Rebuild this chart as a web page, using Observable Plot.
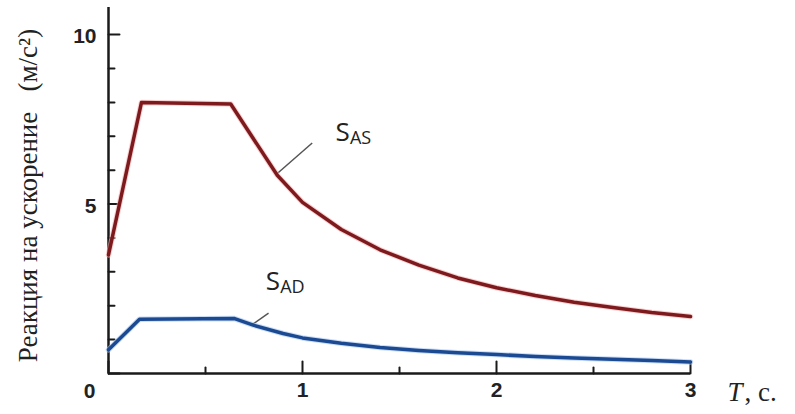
<!DOCTYPE html>
<html><head><meta charset="utf-8">
<script src="https://cdn.jsdelivr.net/npm/d3@7"></script>
<script src="https://cdn.jsdelivr.net/npm/@observablehq/plot@0.6"></script>
<style>body{margin:0;background:#fff}</style>
</head><body><div id="chart"></div>
<script>
// Series S_AS (red)
const periodsAS = [0, 0.17, 0.63, 0.87, 1.0, 1.2, 1.4, 1.6, 1.8, 2.0, 2.2, 2.4, 2.6, 2.8, 3.0];
const valuesAS  = [3.5, 8.0, 7.95, 5.85, 5.05, 4.25, 3.65, 3.2, 2.82, 2.53, 2.3, 2.1, 1.95, 1.8, 1.68];
// Series S_AD (blue)
const periodsAD = [0, 0.16, 0.65, 0.75, 0.9, 1.0, 1.2, 1.4, 1.6, 1.8, 2.0, 2.2, 2.4, 2.6, 2.8, 3.0];
const valuesAD  = [0.7, 1.6, 1.62, 1.42, 1.18, 1.05, 0.89, 0.77, 0.68, 0.61, 0.56, 0.5, 0.46, 0.42, 0.38, 0.34];

const yMajorTicks = [0, 5, 10];
const yMinorTicks = [1, 2, 3, 4, 6, 7, 8, 9];
const yTickLabels = [5, 10];
const xMajorTicks = [0, 1, 2, 3];
const xMinorTicks = [0.5, 1.5, 2.5];
const xTickLabels = [1, 2, 3];

// annotations (data units)
const seriesNames = ["S", "S"];
const seriesSubs = ["AS", "AD"];
const labelT = [1.17, 0.81];
const labelV = [6.85, 2.45];
const leaderFromT = [0.87, 0.735];
const leaderFromV = [5.9, 1.42];
const leaderToT = [1.05, 0.825];
const leaderToV = [6.8, 1.78];

const yTitle = "Реакция на ускорение\u00a0\u00a0\u00a0(м/с²)";
const xTitleVar = "T";
const xTitleUnit = ", с.";

const dataAS = periodsAS.map((t, i) => ({t, v: valuesAS[i]}));
const dataAD = periodsAD.map((t, i) => ({t, v: valuesAD[i]}));
const labels = seriesNames.map((s, i) => ({s, sub: seriesSubs[i], t: labelT[i], v: labelV[i],
  t1: leaderFromT[i], v1: leaderFromV[i], t2: leaderToT[i], v2: leaderToV[i]}));

const axisColor = "#1a1a1a";
const tickShape = {draw(context, l) { context.moveTo(0, 0); context.lineTo(0, -l); }};
const sans = "'Liberation Sans', Arial, sans-serif";
const serif = "'Liberation Serif', 'Times New Roman', serif";
const labelFont = "'Open Sans', sans-serif";

const chart = Plot.plot({
  width: 795,
  height: 414,
  marginLeft: 108,
  marginRight: 105,
  marginTop: 7,
  marginBottom: 41,
  x: {domain: [0, 3], axis: null},
  y: {domain: [0, 10.8], axis: null},
  style: {background: "#fff"},
  marks: [
    Plot.ruleX([0], {stroke: axisColor, strokeWidth: 2.5}),
    Plot.ruleY([0], {x1: 0, x2: 3, stroke: axisColor, strokeWidth: 2.5}),
    Plot.vector(yMajorTicks, {x: 0, y: d => d, length: 11, rotate: 90, anchor: "start", shape: tickShape, stroke: axisColor, strokeWidth: 2}),
    Plot.vector(yMinorTicks, {x: 0, y: d => d, length: 6, rotate: 90, anchor: "start", shape: tickShape, stroke: axisColor, strokeWidth: 2}),
    Plot.vector(xMajorTicks, {x: d => d, y: 0, length: 12, rotate: 0, anchor: "start", shape: tickShape, stroke: axisColor, strokeWidth: 2}),
    Plot.vector(xMinorTicks, {x: d => d, y: 0, length: 6, rotate: 0, anchor: "start", shape: tickShape, stroke: axisColor, strokeWidth: 2}),
    Plot.text(yTickLabels, {x: 0, y: d => d, text: d => String(d), textAnchor: "end", dx: -12, dy: 2, fontFamily: sans, fontWeight: "bold", fontSize: 21, fill: "#222"}),
    Plot.text(xTickLabels, {x: d => d, y: 0, text: d => String(d), dy: 17, fontFamily: sans, fontWeight: "bold", fontSize: 21, fill: "#222"}),
    Plot.text([0], {x: 0, y: 0, text: d => String(d), dx: -19, dy: 18, fontFamily: sans, fontWeight: "bold", fontSize: 21, fill: "#222"}),
    Plot.text([yTitle], {frameAnchor: "left", text: d => d, textAnchor: "middle", rotate: -90, dx: -80, dy: 5, fontFamily: serif, fontSize: 27, fill: "#222"}),
    Plot.text([xTitleVar], {x: 3, y: 0, text: d => d, textAnchor: "start", dx: 37, dy: 19, fontFamily: serif, fontStyle: "italic", fontSize: 27, fill: "#222"}),
    Plot.text([xTitleUnit], {x: 3, y: 0, text: d => d, textAnchor: "start", dx: 54, dy: 19, fontFamily: serif, fontSize: 27, fill: "#222"}),
    Plot.link(labels, {x1: "t1", y1: "v1", x2: "t2", y2: "v2", stroke: "#555", strokeWidth: 1.5}),
    Plot.line(dataAS, {x: "t", y: "v", stroke: "#f4b0b0", strokeWidth: 5.5, strokeOpacity: 0.6}),
    Plot.line(dataAS, {x: "t", y: "v", stroke: "#7d1a1d", strokeWidth: 3.5}),
    Plot.line(dataAD, {x: "t", y: "v", stroke: "#a9c6ee", strokeWidth: 5.5, strokeOpacity: 0.6}),
    Plot.line(dataAD, {x: "t", y: "v", stroke: "#1b4a92", strokeWidth: 3.5}),
    Plot.text(labels, {x: "t", y: "v", text: "s", textAnchor: "start", lineAnchor: "bottom", fontFamily: labelFont, fontSize: 26, fill: "#222"}),
    Plot.text(labels, {x: "t", y: "v", text: "sub", textAnchor: "start", lineAnchor: "bottom", dx: 14.5, dy: 3, fontFamily: labelFont, fontSize: 18, fill: "#222"})
  ]
});
document.getElementById("chart").appendChild(chart);
</script>
</body></html>
